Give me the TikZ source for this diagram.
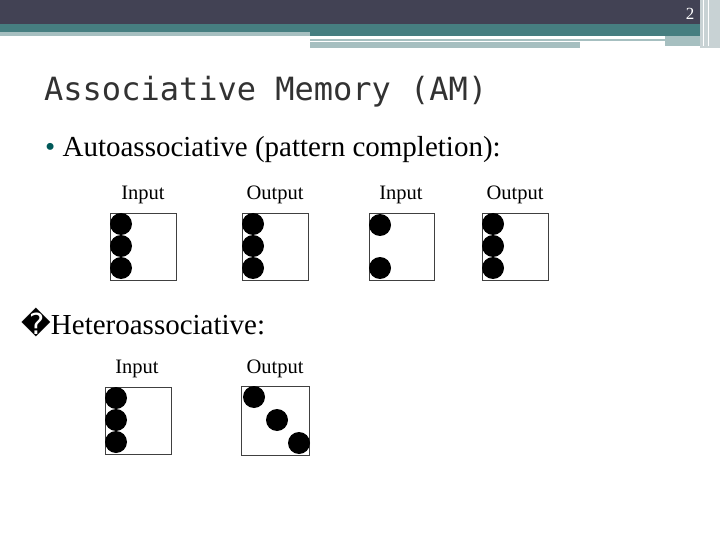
\documentclass[tikz,border=0pt]{standalone}
\usepackage{fontspec}
\setmainfont{Liberation Serif}
\newfontfamily\titlefont{DejaVu Sans Mono}
\newfontfamily\symfont{DejaVu Sans}
\begin{document}
\begin{tikzpicture}[x=1pt,y=-1pt,
  grid/.style={draw=black!75,line width=0.8pt},
  dot/.style={circle,fill=black,minimum size=22pt,inner sep=0pt},
  lbl/.style={font=\fontsize{20.5}{20.5}\selectfont,inner sep=0pt}]
\useasboundingbox (0,0) rectangle (720,540);
% header
\fill[fill={rgb,255:red,66;green,66;blue,84}] (0,0) rectangle (720,24);
\fill[fill={rgb,255:red,70;green,126;blue,128}] (0,24) rectangle (720,32);
\fill[fill={rgb,255:red,166;green,191;blue,192}] (0,32) rectangle (310,36);
\fill[fill={rgb,255:red,70;green,126;blue,128}] (310,32) rectangle (700,36);
\fill[fill={rgb,255:red,166;green,191;blue,192}] (310,39) rectangle (665,41);
\fill[fill={rgb,255:red,166;green,191;blue,192}] (310,42) rectangle (580,48);
\fill[fill={rgb,255:red,166;green,191;blue,192}] (665,36) rectangle (700,46);
\fill[fill={rgb,255:red,200;green,210;blue,212}] (700,0) rectangle (720,48);
\draw[white,line width=1pt] (703,0) -- (703,46) (708,0) -- (708,46);
\node[white,font=\fontsize{17}{17}\selectfont,anchor=east] (pg) at (698,14) {2};
% title
\node[anchor=west,inner sep=0pt,font=\titlefont\fontsize{32}{32}\selectfont,text={rgb,255:red,50;green,50;blue,50}] (title) at (44,92) {Associative Memory (AM)};
\node[anchor=west,inner sep=0pt,font=\fontsize{29}{29}\selectfont] (auto) at (45,150) {{\color{teal!70!black}•} Autoassociative (pattern completion):};
\node[anchor=west,inner sep=0pt,font=\fontsize{29}{29}\selectfont] (hetero) at (21,322) {{\symfont\char"FFFD}Heteroassociative:};
% labels
\node[lbl] (l1) at (143,195) {Input};
\node[lbl] (l2) at (275,195) {Output};
\node[lbl] (l3) at (401,195) {Input};
\node[lbl] (l4) at (515,195) {Output};
\node[lbl] (l5) at (137,369) {Input};
\node[lbl] (l6) at (275,369) {Output};
% boxes
\draw[grid] (110,213) rectangle (176,280);
\draw[grid] (242,213) rectangle (308,280);
\draw[grid] (369,213) rectangle (434,280);
\draw[grid] (482,213) rectangle (548,280);
\draw[grid] (105,387) rectangle (171,454);
\draw[grid] (241,386) rectangle (309,455);
% dots
\foreach \x in {121,253,493} \foreach \y in {224,246,268} \node[dot] at (\x,\y) {};
\node[dot] at (380,225) {}; \node[dot] at (380,268) {};
\foreach \y in {398,420,442} \node[dot] at (116,\y) {};
\node[dot] at (254,397) {}; \node[dot] at (277,420) {}; \node[dot] at (299,443) {};
\end{tikzpicture}
\end{document}
